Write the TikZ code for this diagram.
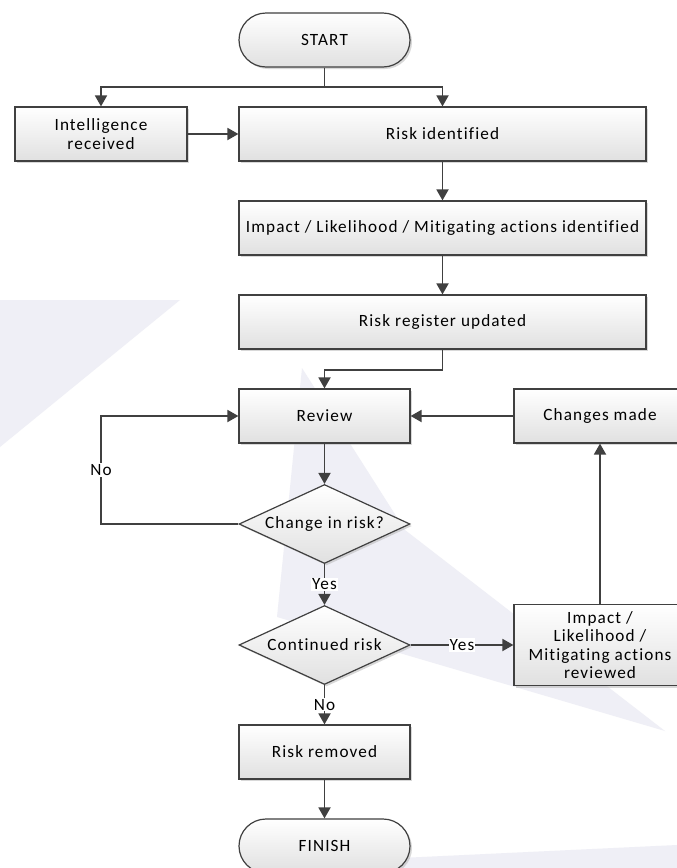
\documentclass[tikz,border=0pt]{standalone}
\usepackage{fontspec}
\setmainfont[LetterSpace=6.5,Ligatures=NoCommon]{Carlito}
\usetikzlibrary{shapes.geometric,arrows.meta,shadows}
\definecolor{linegray}{RGB}{64,64,64}
\definecolor{markfill}{RGB}{239,239,246}

\begin{document}
\begin{tikzpicture}[x=1pt,y=-1pt,
    box/.style={draw=linegray,line width=1.2pt,top color=white,bottom color=black!12,
      drop shadow={shadow xshift=2pt,shadow yshift=-2pt,fill=black!30,opacity=0.5},
      minimum height=54pt,inner sep=2pt,align=center,font=\fontsize{17.2}{18.3}\selectfont},
    terminal/.style={box,rounded corners=27pt,minimum width=171pt},
    decision/.style={box,diamond,aspect=2.16,minimum width=171pt,minimum height=79pt,inner sep=0pt},
    flow/.style={draw=linegray,line width=1.8pt,-{Triangle[length=11pt,width=12pt]}},
    lbl/.style={fill=white,inner sep=1pt,font=\fontsize{17.2}{18.3}\selectfont}]
      \useasboundingbox (0,0) rectangle (677,868);
      \fill[white] (0,0) rectangle (677,868);
      \fill[markfill] (0,300) -- (180,300) -- (0,447) -- cycle;
      \fill[markfill] (302,368) -- (405,530) -- (665,731) -- (277,617) -- cycle;
      \fill[markfill] (400,858) -- (677,845) -- (677,868) -- (400,868) -- cycle;

      \node[terminal] (start) at (324.5,40) {START};
      \node[box,minimum width=172pt] (intel) at (101,134) {Intelligence\\received};
      \node[box,minimum width=407pt] (riskid) at (442.5,134) {Risk identified};
      \node[box,minimum width=407pt] (impact) at (442.5,228) {Impact / Likelihood / Mitigating actions identified};
      \node[box,minimum width=407pt] (register) at (442.5,322) {Risk register updated};
      \node[box,minimum width=171pt] (review) at (324.5,416) {Review};
      \node[box,minimum width=172pt] (changes) at (600,416) {Changes made};
      \node[decision] (change) at (324.5,524) {Change in risk?};
      \node[decision] (continued) at (324.5,645) {Continued risk};
      \node[box,minimum width=172pt,minimum height=81pt] (reviewed) at (600,645) {Impact /\\Likelihood /\\Mitigating actions\\reviewed};
      \node[box,minimum width=171pt] (removed) at (324.5,752) {Risk removed};
      \node[terminal] (finish) at (324.5,846) {FINISH};

      \coordinate (split) at (324.5,87);
      \draw[linegray,line width=1.8pt] (start) -- (split);
      \draw[flow] (split) -| (intel);
      \draw[flow] (split) -| (riskid);
      \draw[flow] (intel) -- (riskid);
      \draw[flow] (riskid) -- (impact);
      \draw[flow] (impact) -- (register);
      \draw[flow] (register.south) -- ++(0,20) -| (review);
      \draw[flow] (changes) -- (review);
      \draw[flow] (review) -- (change);
      \draw[flow] (change.west) -- (change.west -| intel) |- node[lbl,pos=0.25] {No} (review);
      \draw[flow] (change) -- node[lbl] {Yes} (continued);
      \draw[flow] (continued) -- node[lbl] {Yes} (reviewed);
      \draw[flow] (continued) -- node[lbl] {No} (removed);
      \draw[flow] (reviewed) -- (changes);
      \draw[flow] (removed) -- (finish);
\end{tikzpicture}
\end{document}
